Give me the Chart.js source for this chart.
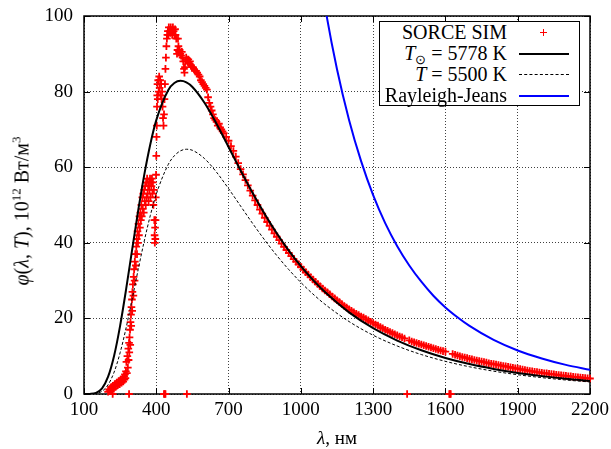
<!DOCTYPE html>
<html>
<head>
<meta charset="utf-8">
<script src="https://cdn.jsdelivr.net/npm/chart.js@4.4.1/dist/chart.umd.min.js"></script>
<style>
  html, body { margin: 0; padding: 0; background: #fff; }
  #wrap { position: relative; width: 611px; height: 449px; font-family: "Liberation Serif", serif; color: #000; }
  #chart { position: absolute; left: 0; top: 0; }
  #legend { position: absolute; left: 379px; top: 21px; width: 199px; height: 83px; border: 1px solid #000; background: #fff; font-size: 20px; }
  .row { position: absolute; left: 0; width: 199px; height: 21px; line-height: 21px; }
  .row .lbl { position: absolute; right: 72px; white-space: nowrap; }
  .row .smp { position: absolute; left: 139px; width: 50px; top: 10px; height: 0; }
  .solid { border-top: 2px solid #000; }
  .dashed { border-top: 1px dashed #000; }
  .blue { border-top: 2px solid #0000ff; }
  .plus { position: absolute; left: 160px; top: 7px; width: 7px; height: 7px; }
  .plus::before { content: ""; position: absolute; left: 0; top: 3px; width: 7px; height: 1px; background: #f00; }
  .plus::after { content: ""; position: absolute; left: 3px; top: 0; width: 1px; height: 7px; background: #f00; }
  sub { font-size: 13px; vertical-align: -4px; line-height: 0; }
  sup { font-size: 13px; vertical-align: 8px; line-height: 0; }
  #xtitle { position: absolute; left: 237px; width: 200px; top: 427px; text-align: center; font-size: 19px; }
  #ytitle { position: absolute; left: 22px; top: 211px; width: 300px; text-align: center; font-size: 20px; white-space: nowrap;
            transform: translate(-50%, -50%) rotate(-90deg); }
</style>
</head>
<body>
<div id="wrap">
  <canvas id="chart" width="611" height="449"></canvas>
  <div id="legend">
    <div class="row" style="top:0px"><span class="lbl">SORCE SIM</span><span class="plus"></span></div>
    <div class="row" style="top:21px"><span class="lbl"><i>T</i><sub>⊙</sub> = 5778 K</span><div class="smp solid"></div></div>
    <div class="row" style="top:42px"><span class="lbl"><i>T</i> = 5500 K</span><div class="smp dashed"></div></div>
    <div class="row" style="top:63px"><span class="lbl">Rayleigh-Jeans</span><div class="smp blue"></div></div>
  </div>
  <div id="xtitle"><i>λ</i>, нм</div>
  <div id="ytitle"><i>φ</i>(<i>λ</i>, <i>T</i>), 10<sup>12</sup> Вт/м<sup>3</sup></div>
</div>
<script>
// wavelength grid (nm) for the black-body curves
const lambdaGrid = [100, 125, 150, 175, 200, 225, 250, 275, 300, 325, 350, 375, 400,
  450, 475, 500, 525, 550, 600, 650, 700, 750, 800, 850, 900, 950, 1000, 1050, 1100,
  1200, 1300, 1400, 1500, 1600, 1700, 1800, 1900, 2000, 2100, 2200];
// T = 5778 K
const sun5778 = [0.0006, 0.03, 0.30, 1.51, 4.58, 10.14, 18.10, 27.79, 38.26, 48.57, 57.98, 66.02, 72.45,
  80.45, 82.27, 82.86, 82.46, 81.23, 77.06, 71.50, 65.35, 59.14, 53.16, 47.60, 42.51, 37.92, 33.82, 30.18, 26.96,
  21.59, 17.40, 14.14, 11.57, 9.54, 7.92, 6.63, 5.58, 4.73, 4.03, 3.46];
// T = 5500 K
const star5500 = [0, 0.01, 0.13, 0.73, 2.44, 5.79, 10.94, 17.58, 25.15, 32.97, 40.45, 47.17, 52.86,
  60.76, 63.03, 64.32, 64.75, 64.47, 62.29, 58.68, 54.33, 49.71, 45.11, 40.73, 36.64, 32.90, 29.51, 26.46, 23.74,
  19.17, 15.55, 12.70, 10.44, 8.64, 7.20, 6.04, 5.10, 4.33, 3.70, 3.18];

// Rayleigh-Jeans
const rjLambda = [1050, 1100, 1150, 1200, 1250, 1300, 1350, 1400, 1450, 1500, 1550, 1600, 1650, 1700, 1800, 1900, 2000, 2100, 2200];
const rjValues = [123.6, 102.6, 85.9, 72.5, 61.6, 52.6, 45.2, 39.1, 34.0, 29.7, 26.0, 22.9, 20.3, 18.0, 14.3, 11.5, 9.4, 7.7, 6.4];

// SORCE SIM measurements [nm, value]
const sorceGaps = [[219, 0], [287, 0], [432, 0], [435, 0], [438, 0], [527, 0], [1441, 0], [1616, 0], [1619, 0], [1622, 0]];
const sorceUv = [[200, 0.6], [204, 1.2], [208, 0.8], [212, 1.8], [216, 1.1], [220, 2.2], [224, 1.4], [228, 2.6],
  [232, 1.9], [236, 3.0], [240, 2.3], [244, 3.4], [248, 2.6], [252, 3.8], [256, 3.0], [260, 4.2], [263, 3.3],
  [266, 4.6], [268, 3.8], [270, 5.2], [272, 4.2], [274, 6.0], [276, 8.5], [278, 5.5], [280, 10], [282, 7],
  [284, 12], [285, 9], [287, 13.5], [288, 11], [289, 15], [291, 17], [292, 13], [293, 19], [295, 21], [296, 18],
  [297, 23], [299, 25], [300, 22], [301, 27], [303, 29], [305, 26], [306, 31], [308, 33], [310, 30], [311, 35],
  [313, 37], [315, 34], [317, 39], [319, 41], [320, 37], [322, 43], [324, 40], [326, 45], [328, 42], [330, 47],
  [332, 44], [334, 48], [336, 46], [338, 50], [340, 47], [342, 52], [344, 49], [346, 53], [348, 48], [350, 54],
  [352, 51], [354, 55], [356, 50], [358, 56], [360, 52], [362, 57], [364, 53], [366, 55], [368, 51], [370, 56],
  [372, 54], [374, 57], [376, 52], [378, 56], [380, 55], [382, 57], [384, 53], [386, 56], [388, 50], [390, 54],
  [392, 46], [393, 42], [394, 40], [395, 44], [396, 41], [397, 46], [398, 52], [399, 58]];
const sorceVis = [[400, 63], [401, 68], [402, 71], [403, 76], [404, 79], [405, 82], [406, 78], [408, 83], [410, 80],
  [412, 84], [414, 81], [416, 83], [418, 79], [420, 82], [422, 78], [424, 80], [426, 76], [428, 73], [430, 71],
  [432, 74], [434, 78], [436, 82], [438, 86], [440, 89], [442, 92], [444, 94], [446, 95], [448, 96], [450, 95],
  [452, 97], [455, 96], [458, 95.5], [460, 97], [463, 96], [466, 95], [469, 97], [472, 96], [475, 95], [478, 96.5],
  [480, 95], [483, 94], [486, 90], [488, 91], [490, 94], [492, 92], [494, 90.5], [497, 91], [500, 90], [503, 89.5],
  [506, 90.5], [509, 89], [512, 88], [515, 86], [517, 85], [519, 86.5], [521, 88], [524, 89], [527, 88.5],
  [530, 88], [533, 88.5], [536, 87.5], [540, 88], [544, 87], [548, 86.5], [552, 86.5], [556, 86], [560, 85.5],
  [565, 85.5], [570, 85], [575, 84.5], [580, 84], [585, 83], [590, 82.5], [595, 82], [600, 81.5], [605, 81],
  [610, 80.5], [615, 78.5], [620, 77], [625, 76], [630, 75], [635, 74], [640, 73], [645, 72.5], [650, 72],
  [655, 71], [660, 71.5], [665, 70.5], [670, 70], [675, 69.5], [680, 69], [690, 68]];
const sorceIr = [[700, 67.0], [710, 65.6], [720, 64.3], [730, 62.8], [740, 61.1], [750, 59.5], [760, 58.1],
  [770, 56.6], [780, 55.2], [790, 53.8], [800, 52.5], [810, 51.2], [820, 50.0], [830, 48.8], [840, 47.7],
  [850, 46.6], [860, 45.5], [870, 44.5], [880, 43.5], [890, 42.5], [900, 41.6], [910, 40.7], [920, 39.8],
  [930, 38.9], [940, 38.1], [950, 37.3], [960, 36.5], [970, 35.7], [980, 35.0], [990, 34.3], [1000, 33.6],
  [1010, 32.9], [1020, 32.2], [1030, 31.6], [1040, 30.9], [1050, 30.3], [1060, 29.7], [1070, 29.1], [1080, 28.5],
  [1090, 27.9], [1100, 27.4], [1110, 26.9], [1120, 26.4], [1130, 25.8], [1140, 25.3], [1150, 24.8], [1160, 24.3],
  [1170, 23.8], [1180, 23.3], [1190, 22.9], [1200, 22.4], [1210, 22.0], [1220, 21.6], [1230, 21.2], [1240, 20.9],
  [1250, 20.5], [1260, 20.2], [1270, 19.8], [1280, 19.5], [1290, 19.1], [1300, 18.8], [1310, 18.4], [1320, 18.1],
  [1330, 17.7], [1340, 17.4], [1350, 17.0], [1360, 16.7], [1370, 16.4], [1380, 16.1], [1390, 15.8], [1400, 15.5],
  [1410, 15.2], [1420, 15.0], [1430, 14.7], [1450, 14.2], [1460, 13.9], [1470, 13.7], [1480, 13.5], [1490, 13.3],
  [1500, 13.1], [1510, 12.9], [1520, 12.7], [1530, 12.5], [1540, 12.3], [1550, 12.1], [1560, 11.9], [1570, 11.7],
  [1580, 11.5], [1590, 11.35], [1600, 11.2], [1630, 10.6], [1640, 10.4], [1650, 10.2], [1660, 10.0], [1670, 9.8],
  [1680, 9.65], [1690, 9.5], [1700, 9.3], [1710, 9.15], [1720, 9.0], [1730, 8.85], [1740, 8.7], [1750, 8.6],
  [1760, 8.45], [1770, 8.3], [1780, 8.15], [1790, 8.0], [1800, 7.9], [1810, 7.8], [1820, 7.65], [1830, 7.55],
  [1840, 7.4], [1850, 7.3], [1860, 7.2], [1870, 7.05], [1880, 6.95], [1890, 6.8], [1900, 6.7], [1910, 6.6],
  [1920, 6.45], [1930, 6.35], [1940, 6.2], [1950, 6.1], [1960, 6.0], [1970, 5.9], [1980, 5.8], [1990, 5.7],
  [2000, 5.6], [2010, 5.5], [2020, 5.45], [2030, 5.35], [2040, 5.25], [2050, 5.2], [2060, 5.1], [2070, 5.0],
  [2080, 4.95], [2090, 4.85], [2100, 4.8], [2110, 4.7], [2120, 4.65], [2130, 4.55], [2140, 4.5], [2150, 4.45],
  [2160, 4.35], [2170, 4.3], [2180, 4.2], [2190, 4.15], [2200, 4.1]];

const xMin = 100, xMax = 2200, xStep = 300;
const yMin = 0, yMax = 100, yStep = 20;

const toXY = (xs, ys) => xs.map((x, i) => ({ x, y: ys[i] }));
const pairsXY = list => list.map(p => ({ x: p[0], y: p[1] }));

// box round the plot and gnuplot-style inward ticks on all four sides
const framePlugin = {
  id: "frame",
  beforeDatasetsDraw(chart) {
    const { ctx, chartArea: a, scales } = chart;
    const ln = (x1, y1, x2, y2) => { ctx.beginPath(); ctx.moveTo(x1, y1); ctx.lineTo(x2, y2); ctx.stroke(); };
    ctx.save();
    ctx.strokeStyle = "#000";
    ctx.lineWidth = 1;
    scales.x.ticks.forEach(t => {
      const p = Math.round(scales.x.getPixelForValue(t.value)) + 0.5;
      ln(p, a.bottom, p, a.bottom - 6);
      ln(p, a.top, p, a.top + 6);
    });
    scales.y.ticks.forEach(t => {
      const p = Math.round(scales.y.getPixelForValue(t.value)) + 0.5;
      ln(a.left, p, a.left + 6, p);
      ln(a.right, p, a.right - 6, p);
    });
    ctx.lineWidth = 1.5;
    ctx.strokeRect(a.left, a.top, a.right - a.left, a.bottom - a.top);
    ctx.restore();
  }
};

const tickFont = { family: "Liberation Serif", size: 19 };

new Chart(document.getElementById("chart"), {
  type: "line",
  data: {
    datasets: [
      {
        label: "T⊙ = 5778 K",
        data: toXY(lambdaGrid, sun5778),
        borderColor: "#000",
        borderWidth: 2,
        pointRadius: 0,
        cubicInterpolationMode: "monotone",
        order: 1
      },
      {
        label: "T = 5500 K",
        data: toXY(lambdaGrid, star5500),
        borderColor: "#000",
        borderWidth: 1,
        borderDash: [3, 2],
        pointRadius: 0,
        cubicInterpolationMode: "monotone",
        order: 2
      },
      {
        label: "Rayleigh-Jeans",
        data: toXY(rjLambda, rjValues),
        borderColor: "#0000ff",
        borderWidth: 2,
        pointRadius: 0,
        cubicInterpolationMode: "monotone",
        order: 3
      },
      {
        label: "SORCE SIM",
        data: pairsXY([...sorceGaps, ...sorceUv, ...sorceVis, ...sorceIr]),
        showLine: false,
        pointStyle: "cross",
        pointRadius: 3.8,
        borderColor: "#ff0000",
        backgroundColor: "#ff0000",
        pointBorderWidth: 1.8,
        clip: false,
        order: 4
      }
    ]
  },
  options: {
    responsive: false,
    animation: false,
    events: [],
    layout: { padding: { left: 0, top: 16, right: 21, bottom: 0 } },
    plugins: { legend: { display: false }, tooltip: { enabled: false } },
    scales: {
      x: {
        type: "linear",
        min: xMin,
        max: xMax,
        afterFit: s => { s.height = 55; },
        afterBuildTicks: s => {
          s.ticks = [];
          for (let v = xMin; v <= xMax; v += xStep) s.ticks.push({ value: v });
        },
        ticks: { font: tickFont, color: "#000", padding: 0, maxRotation: 0, autoSkip: false,
                 callback: v => String(v) },
        grid: { color: "rgba(0,0,0,0.75)", lineWidth: 1, drawTicks: true, tickLength: 5, tickColor: "rgba(0,0,0,0)" },
        border: { display: false, dash: [1, 2] }
      },
      y: {
        type: "linear",
        min: yMin,
        max: yMax,
        afterFit: s => { s.width = 84; },
        ticks: { stepSize: yStep, font: tickFont, color: "#000", padding: 2, callback: v => String(v) },
        grid: { color: "rgba(0,0,0,0.75)", lineWidth: 1, drawTicks: true, tickLength: 9, tickColor: "rgba(0,0,0,0)" },
        border: { display: false, dash: [1, 2] }
      }
    }
  },
  plugins: [framePlugin]
});
</script>
</body>
</html>
